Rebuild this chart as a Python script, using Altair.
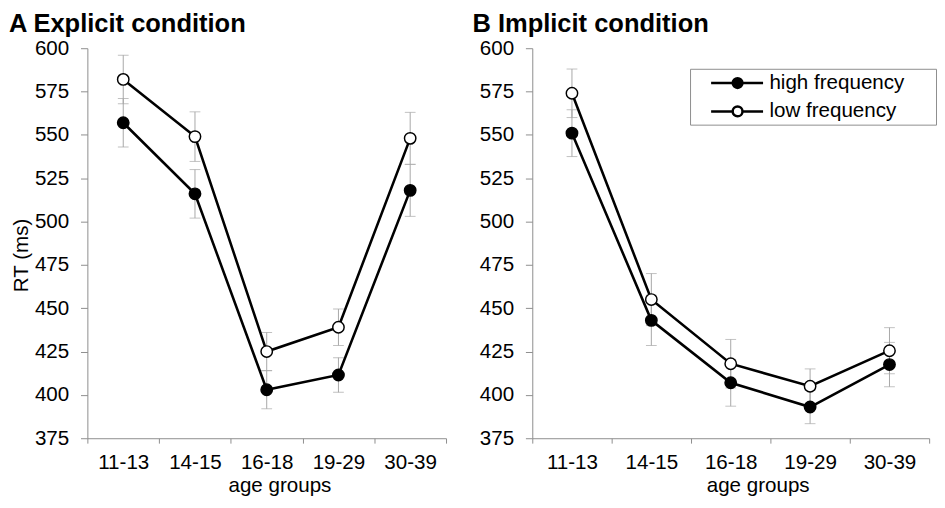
import altair as alt
import pandas as pd

groups = ["11-13", "14-15", "16-18", "19-29", "30-39"]
series = ["high frequency", "low frequency"]

exp_high = [557, 516, 403, 411.5, 518]
exp_low = [582, 549, 425, 439, 548]
exp_high_err = [14, 14, 11, 10, 15]
exp_low_err = [14, 14.3, 11, 10.5, 15]

imp_high = [551, 443, 407, 393, 417.5]
imp_low = [574, 455, 418, 405, 425.5]
imp_high_err = [13.5, 14.5, 13.5, 9.6, 12.8]
imp_low_err = [14, 15, 14, 10, 13.3]

y_ticks = [375, 400, 425, 450, 475, 500, 525, 550, 575, 600]

FONT = "Liberation Sans"
AXIS_GRAY = "#8c8c8c"
ERR_GRAY = "#a6a6a6"
LEGEND_PATH = ("M0.7,0 H2.9 M3.9,0 H6.0 "
               "M2.9,0 A0.5,0.5 0 1,1 3.9,0 A0.5,0.5 0 1,1 2.9,0 Z")
PAD_TAIL = "\u00a0\u00a0\u00a0\u00a0\u00a0\u200b"


def build_df(high, low, high_err, low_err):
    rows = []
    for i, g in enumerate(groups):
        rows.append(dict(group=g, series=series[0], rt=high[i],
                         lo=high[i] - high_err[i], hi=high[i] + high_err[i]))
        rows.append(dict(group=g, series=series[1], rt=low[i],
                         lo=low[i] - low_err[i], hi=low[i] + low_err[i]))
    return pd.DataFrame(rows)


def panel(high, low, high_err, low_err, title, title_dx, y_title, x_title_x,
          width, legend):
    df = build_df(high, low, high_err, low_err)
    x = alt.X(
        "group:N", sort=groups,
        scale=alt.Scale(type="band", paddingInner=0, paddingOuter=0),
        axis=alt.Axis(
            title="age groups", titleX=x_title_x, titleY=54,
            titleBaseline="alphabetic", titleFontSize=21,
            titleFontWeight="normal", titleFont=FONT, titleColor="black",
            labelAngle=0, labelFontSize=21, labelFont=FONT,
            labelColor="black", labelBaseline="alphabetic", labelPadding=26,
            tickBand="extent", tickSize=5, tickColor=AXIS_GRAY,
            domainColor=AXIS_GRAY, grid=False,
        ),
    )
    yscale = alt.Scale(domain=[375, 600], nice=False, zero=False)
    yaxis_kw = dict(
        values=y_ticks, labelFontSize=21, labelFont=FONT, labelColor="black",
        labelPadding=12, tickSize=7, tickColor=AXIS_GRAY,
        domainColor=AXIS_GRAY, grid=False,
    )
    if y_title:
        yaxis = alt.Axis(title=y_title, titleFontSize=21, titleFont=FONT,
                         titleFontWeight="normal", titleColor="black",
                         titlePadding=3, titleY=211, **yaxis_kw)
    else:
        yaxis = alt.Axis(title=None, **yaxis_kw)

    base = alt.Chart(df)
    err = base.mark_rule(color=ERR_GRAY, strokeWidth=1).encode(
        x=x, y=alt.Y("lo:Q", scale=yscale, axis=yaxis), y2="hi:Q")
    cap_lo = base.mark_tick(color=ERR_GRAY, thickness=1, size=11).encode(
        x=x, y=alt.Y("lo:Q", scale=yscale, axis=yaxis))
    cap_hi = base.mark_tick(color=ERR_GRAY, thickness=1, size=11).encode(
        x=x, y=alt.Y("hi:Q", scale=yscale, axis=yaxis))
    line = base.mark_line(color="black", strokeWidth=2.6).encode(
        x=x, y=alt.Y("rt:Q", scale=yscale, axis=yaxis), detail="series:N")
    pts = base.mark_point(shape="circle", size=135, stroke="black",
                          strokeWidth=1.5, opacity=1, fillOpacity=1).encode(
        x=x, y=alt.Y("rt:Q", scale=yscale, axis=yaxis),
        fill=alt.Fill("series:N",
                      scale=alt.Scale(domain=series, range=["black", "white"]),
                      legend=legend))
    return alt.layer(err, cap_lo, cap_hi, line, pts).properties(
        width=width, height=398,
        title=alt.TitleParams(text=title, anchor="start", fontSize=26,
                              fontWeight="bold", font=FONT, color="black",
                              offset=1, dx=title_dx),
    )


legend_b = alt.Legend(
    orient="none", legendX=161, legendY=21, title=None,
    symbolType=LEGEND_PATH, symbolSize=400, symbolStrokeWidth=2.5,
    symbolStrokeColor="black", labelFontSize=21, labelFont=FONT,
    labelColor="black", labelOffset=55, labelLimit=400, padding=3,
    rowPadding=7, strokeColor="#8c8c8c", fillColor="white",
    labelExpr="datum.label + '" + PAD_TAIL + "'",
)

panel_a = panel(exp_high, exp_low, exp_high_err, exp_low_err,
                "A Explicit condition", -2, "RT (ms)", 196, 366, None)
panel_b = panel(imp_high, imp_low, imp_high_err, imp_low_err,
                "B Implicit condition", -7, None, 230, 405, legend_b)

chart = alt.hconcat(panel_a, panel_b, spacing=25).resolve_scale(
    fill="independent").resolve_legend(fill="independent").properties(
    padding={"left": 0, "top": -3, "right": 0, "bottom": 0}
).configure_view(stroke="transparent")

chart.save("out.html", embed_options={"renderer": "svg", "actions": False})
